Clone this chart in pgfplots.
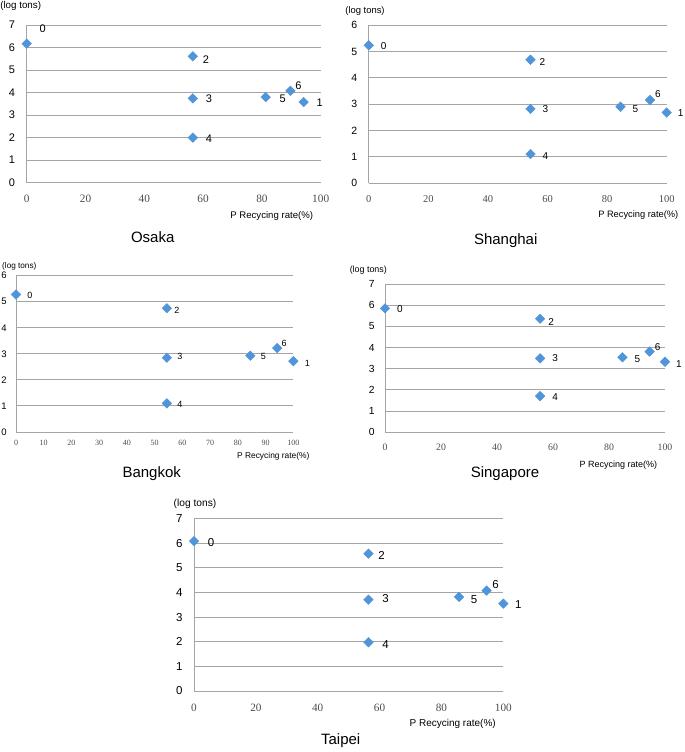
\documentclass[border=0pt]{standalone}
\usepackage{pgfplots}
\usepackage{pgfplotstable}
\pgfplotsset{compat=1.18}
\usepackage{fontspec}
\setmainfont{Liberation Sans}
\newfontfamily\serifx{Liberation Serif}
\definecolor{gridc}{RGB}{165,165,165}
\definecolor{mcol}{RGB}{80,148,218}

\pgfplotstableread{
x y lab dx dy
0 6.17 0 16 15
94.2 3.58 1 16 -1
56.5 5.61 2 13 -3
56.5 3.74 3 16 0
56.5 2.00 4 16 -1
81.3 3.80 5 17 -2
89.7 4.08 6 8 5
}\osaka
\pgfplotstableread{
x y lab dx dy
0 5.24 0 15 -1
100 2.68 1 14 -1
54.3 4.69 2 12 -2
54.3 2.82 3 15 0
54.3 1.10 4 15 -2
84.5 2.90 5 15 -2
94.4 3.16 6 8 6
}\shanghai
\pgfplotstableread{
x y lab dx dy
0 5.28 0 14 -1
100 2.72 1 14 -2
54.4 4.75 2 10 -2
54.4 2.85 3 13 1
54.4 1.10 4 13 -1
84.5 2.93 5 13 -1
94.2 3.22 6 7 5
}\bangkok
\pgfplotstableread{
x y lab dx dy
0 5.85 0 15 -1
100 3.33 1 14 -2
55.4 5.36 2 11 -3
55.4 3.49 3 15 0
55.4 1.71 4 15 -1
84.8 3.54 5 15 -2
94.5 3.81 6 8 5
}\singapore
\pgfplotstableread{
x y lab dx dy
0 6.09 0 17 -1
100 3.55 1 15 -1
56.4 5.58 2 13 -2
56.4 3.71 3 17 1
56.4 1.98 4 17 -2
85.7 3.82 5 15 -3
94.6 4.08 6 9 6
}\taipei

\pgfplotsset{
  cstyle/.style={
    scale only axis, anchor=south west, clip=false,
    xmin=0, xmax=100, ymin=0,
    axis x line*=bottom, axis y line*=left,
    ymajorgrids, grid style={gridc, line width=0.9pt},
    axis line style={gridc, line width=0.9pt, -},
    major tick length=0pt, tick style={draw=none},
    /pgf/number format/assume math mode=true,
    xtick={0,20,...,100},
    ytick distance=1,
  },
  pts/.style={only marks, mark=square*, mark size=3.4pt,
    mark options={rotate=45, fill=mcol, draw=mcol},
    nodes near coords, point meta=explicit symbolic,
    visualization depends on={\thisrow{dx}\as\dx},
    visualization depends on={\thisrow{dy}\as\dy},
    every node near coord/.append style={anchor=center, xshift=\dx pt, yshift=\dy pt, text=black, font=\fontsize{#1}{#1}\selectfont}},
}

\begin{document}
\begin{tikzpicture}
\useasboundingbox (0,0) rectangle (685pt,752pt);

% Osaka
\begin{axis}[cstyle, at={(26.7pt,569.3pt)}, width=294pt, height=157.7pt, ymax=7,
  xticklabel style={anchor=center, yshift=-16.6pt, font=\serifx\fontsize{11.3}{11.3}\selectfont, text=black!70},
  yticklabel style={anchor=center, xshift=-14.7pt, font=\fontsize{11}{11}\selectfont}]
\addplot[pts=11] table[x=x,y=y,meta=lab] {\osaka};
\end{axis}
\node[font=\fontsize{9.8}{9.8}\selectfont] at (20.7pt,746pt) {(log tons)};
\node[font=\fontsize{9.6}{9.6}\selectfont] at (271.7pt,536pt) {P Recycing rate(\%)};
\node[font=\fontsize{15}{15}\selectfont] at (152.7pt,515.3pt) {Osaka};

% Shanghai
\begin{axis}[cstyle, at={(368.7pt,569pt)}, width=298pt, height=157.7pt, ymax=6,
  xticklabel style={anchor=center, yshift=-16.3pt, font=\serifx\fontsize{10.5}{10.5}\selectfont, text=black!70},
  yticklabel style={anchor=center, xshift=-14.4pt, font=\fontsize{10.5}{10.5}\selectfont}]
\addplot[pts=10] table[x=x,y=y,meta=lab] {\shanghai};
\end{axis}
\node[font=\fontsize{9.4}{9.4}\selectfont] at (365pt,741.3pt) {(log tons)};
\node[font=\fontsize{9.3}{9.3}\selectfont] at (638.3pt,537pt) {P Recycing rate(\%)};
\node[font=\fontsize{15}{15}\selectfont] at (505.7pt,511.3pt) {Shanghai};

% Bangkok
\begin{axis}[cstyle, at={(16pt,320pt)}, width=277.3pt, height=156.3pt, ymax=6,
  xtick={0,10,...,100},
  xticklabel style={anchor=center, yshift=-10.7pt, font=\serifx\fontsize{8}{8}\selectfont, text=black!70},
  yticklabel style={anchor=center, xshift=-12pt, font=\fontsize{9.5}{9.5}\selectfont}]
\addplot[pts=9] table[x=x,y=y,meta=lab] {\bangkok};
\end{axis}
\node[font=\fontsize{8.2}{8.2}\selectfont] at (19.3pt,485.3pt) {(log tons)};
\node[font=\fontsize{8.4}{8.4}\selectfont] at (273.3pt,296pt) {P Recycing rate(\%)};
\node[font=\fontsize{15}{15}\selectfont] at (151.7pt,278pt) {Bangkok};

% Singapore
\begin{axis}[cstyle, at={(385pt,319.7pt)}, width=280pt, height=148.3pt, ymax=7,
  xticklabel style={anchor=center, yshift=-15.3pt, font=\serifx\fontsize{9.8}{9.8}\selectfont, text=black!70},
  yticklabel style={anchor=center, xshift=-13.3pt, font=\fontsize{10.3}{10.3}\selectfont}]
\addplot[pts=10] table[x=x,y=y,meta=lab] {\singapore};
\end{axis}
\node[font=\fontsize{8.9}{8.9}\selectfont] at (368.3pt,481.3pt) {(log tons)};
\node[font=\fontsize{9}{9}\selectfont] at (618.3pt,287pt) {P Recycing rate(\%)};
\node[font=\fontsize{15}{15}\selectfont] at (505pt,278pt) {Singapore};

% Taipei
\begin{axis}[cstyle, at={(194pt,61pt)}, width=309.3pt, height=172.3pt, ymax=7,
  xticklabel style={anchor=center, yshift=-17.3pt, font=\serifx\fontsize{11.2}{11.2}\selectfont, text=black!70},
  yticklabel style={anchor=center, xshift=-14.7pt, font=\fontsize{11.5}{11.5}\selectfont}]
\addplot[pts=11.5] table[x=x,y=y,meta=lab] {\taipei};
\end{axis}
\node[font=\fontsize{10.2}{10.2}\selectfont] at (195pt,248pt) {(log tons)};
\node[font=\fontsize{10}{10}\selectfont] at (452.7pt,27.7pt) {P Recycing rate(\%)};
\node[font=\fontsize{15}{15}\selectfont] at (340.7pt,11pt) {Taipei};
\end{tikzpicture}
\end{document}
